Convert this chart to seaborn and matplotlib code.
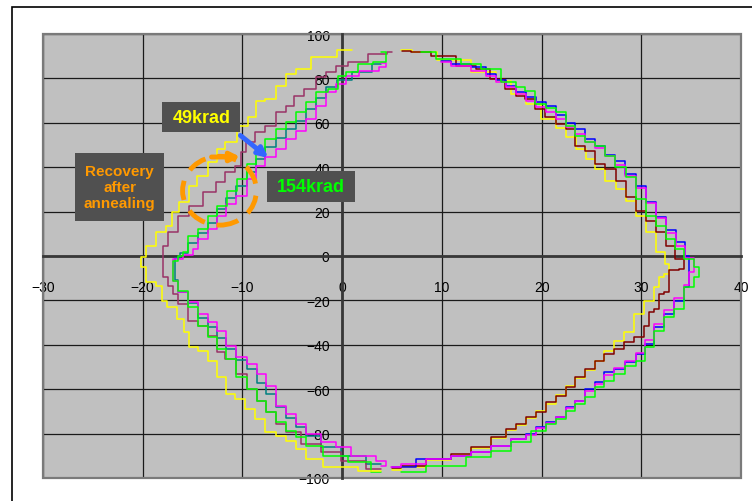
import matplotlib
matplotlib.use('Agg')
import matplotlib.pyplot as plt
from matplotlib.patches import Rectangle, Ellipse
import seaborn as sns

# left-hand branches (top -> vertex -> bottom)
yellow_l_x = [1.0, -2.1, -4.1, -5.1, -6.1, -7.2, -8.2, -9.0, -9.8, -11.2, -12.2, -12.8, -14.2, -15.0, -15.8, -16.9,
              -17.2, -18.2, -19.2, -20.2, -20.2, -19.2, -18.2, -18.0, -17.2, -16.0, -15.8, -15.0, -14.0, -13.0, -12.0,
              -11.2, -10.2, -9.2, -8.2, -7.2, -6.1, -5.1, -4.1, -3.1, -0.8, 3.9]
yellow_l_y = [93.0, 89.5, 84.2, 82.0, 76.7, 70.7, 70.0, 62.5, 58.7, 51.2, 48.2, 42.2, 36.2, 31.7, 24.2, 19.7,
              13.7, 10.7, 4.7, -0.6, -5.0, -11.9, -13.4, -20.1, -23.1, -28.4, -34.4, -41.1, -42.6, -47.2, -54.6,
              -62.2, -64.4, -68.9, -73.4, -79.4, -80.9, -83.2, -86.9, -91.4, -95.2, -96.7]

plum_l_x = [5.0, 3.9, 1.2, -0.1, -1.1, -2.1, -3.1, -4.5, -5.1, -6.1, -7.2, -8.2, -9.2, -10.0, -10.2, -11.2, -12.2,
            -13.2, -14.8, -16.0, -17.0, -18.0, -18.0, -17.0, -17.0, -16.0, -15.0, -14.0, -13.0, -12.2, -11.2, -10.0,
            -9.0, -8.0, -7.2, -6.1, -5.1, -3.1, -1.1, 0.9, 3.9]
plum_l_y = [91.7, 91.0, 87.2, 85.7, 82.7, 80.5, 75.2, 72.2, 67.7, 64.7, 58.7, 55.7, 51.2, 46.7, 40.7, 37.7, 33.2,
            28.7, 22.7, 18.2, 10.7, 4.6, -9.6, -13.4, -17.1, -21.6, -29.1, -31.4, -35.9, -43.4, -46.4, -53.2,
            -59.9, -65.2, -70.4, -75.7, -79.4, -84.7, -88.4, -92.2, -95.9]

green_l_x = [3.9, 4.9, 3.9, 2.2, 0.9, -0.1, -0.8, -2.1, -3.1, -4.1, -5.1, -6.1, -7.2, -8.2, -9.0, -10.0, -11.0,
             -12.0, -13.0, -14.0, -15.0, -16.0, -16.0, -17.0, -17.0, -16.0, -15.0, -14.0, -13.0, -12.0, -11.2, -10.0,
             -9.0, -8.0, -7.2, -6.1, -5.1, -4.1, -3.1, -0.8, 1.9, 3.9]
green_l_y = [92.0, 89.5, 87.5, 86.5, 82.7, 81.2, 75.2, 73.7, 69.2, 64.7, 60.2, 57.2, 52.7, 46.7, 41.4, 34.7, 29.4,
             22.7, 18.2, 12.2, 9.1, 1.7, 0.1, -2.1, -11.1, -15.6, -23.1, -31.4, -36.6, -41.9, -46.4, -54.7,
             -59.9, -65.2, -70.4, -74.9, -78.7, -81.7, -85.4, -90.0, -92.9, -97.4]

teal_l_x = [3.9, 2.0, 0.0, -1.1, -2.1, -3.1, -4.1, -5.1, -6.1, -7.2, -8.2, -9.0, -10.0, -11.2, -12.0, -13.0, -14.0,
            -15.0, -16.0, -16.5, -17.0, -16.0, -15.0, -14.0, -13.0, -12.0, -11.2, -10.0, -9.0, -8.0, -7.2, -6.1,
            -5.1, -4.1, -3.1, -1.1, 0.9, 3.9]
teal_l_y = [86.5, 83.0, 79.5, 76.0, 71.0, 66.0, 61.0, 57.0, 53.0, 49.0, 43.5, 38.0, 31.5, 26.0, 21.0, 15.0, 10.5,
            6.0, 1.5, -1.0, -11.0, -16.0, -21.0, -28.0, -32.0, -37.0, -42.0, -47.0, -51.0, -57.0, -62.0, -68.0,
            -73.0, -77.0, -81.0, -86.0, -90.0, -93.5]

magenta_l_x = [3.9, 4.9, 2.5, 0.9, -0.1, -1.1, -2.1, -3.1, -4.1, -5.1, -6.1, -7.2, -8.2, -9.0, -10.0, -11.2, -12.0,
               -13.0, -14.0, -15.0, -15.0, -17.0, -17.0, -16.0, -15.0, -14.0, -13.0, -12.0, -11.2, -10.0, -9.0, -8.0,
               -7.2, -6.1, -5.1, -4.1, -3.1, -1.1, -0.1, 1.9, 4.9, 3.9]
magenta_l_y = [87.0, 85.0, 83.5, 81.2, 77.5, 73.7, 67.7, 61.7, 56.4, 52.7, 48.2, 44.5, 40.7, 34.7, 27.2, 23.4, 18.2,
               12.2, 7.7, 3.2, 0.4, -1.4, -11.1, -16.4, -20.9, -26.1, -29.9, -33.6, -40.4, -45.6, -48.6, -53.2,
               -58.4, -67.4, -71.2, -75.7, -80.2, -83.9, -86.2, -90.0, -92.2, -94.4]

# right-hand branches (top -> vertex -> bottom)
yellow_r_x = [5.9, 8.1, 11.0, 14.9, 16.0, 17.9, 19.0, 20.9, 22.0, 22.9, 24.0, 24.9, 25.9, 26.9, 28.0, 29.0, 30.0,
              31.0, 32.0, 32.8, 32.8, 31.8, 31.8, 30.8, 29.8, 28.8, 27.8, 26.8, 25.8, 24.9, 23.9, 22.9, 21.9, 20.9,
              19.9, 18.9, 17.9, 16.9, 15.9, 13.9, 11.9, 9.9, 6.9, 5.0]
yellow_r_y = [92.9, 91.7, 88.5, 82.7, 79.0, 73.0, 68.5, 61.7, 57.5, 53.4, 48.0, 43.7, 39.2, 33.9, 30.2, 24.9, 18.2,
              10.7, 1.7, -3.5, -8.0, -9.6, -14.0, -20.1, -26.1, -34.4, -38.1, -42.6, -47.2, -51.5, -55.0, -58.5,
              -62.5, -66.5, -70.0, -73.0, -76.0, -78.5, -82.0, -86.5, -89.5, -92.0, -95.0, -96.5]

darkred_r_x = [6.0, 7.9, 9.9, 12.9, 13.9, 15.7, 16.9, 17.9, 18.8, 19.8, 20.9, 21.9, 22.9, 23.9, 24.9, 25.9, 26.9,
               28.0, 29.0, 30.0, 31.0, 32.0, 33.0, 33.8, 34.8, 32.8, 32.8, 31.8, 31.8, 30.8, 30.8, 29.8, 28.8, 27.8,
               26.8, 25.8, 24.9, 23.9, 22.9, 21.9, 20.9, 19.9, 18.9, 17.9, 16.9, 15.9, 13.9, 11.9, 9.9, 6.9, 5.0]
darkred_r_y = [92.5, 91.7, 90.2, 85.7, 84.2, 79.7, 75.2, 72.2, 70.7, 66.2, 62.5, 59.5, 57.2, 49.7, 47.4, 41.4, 39.2,
               33.9, 26.4, 20.4, 15.9, 10.7, 4.6, -1.4, -5.9, -6.5, -16.4, -17.1, -23.9, -25.4, -31.4, -36.6, -38.9,
               -41.9, -44.1, -47.2, -50.9, -54.6, -59.1, -62.9, -65.9, -70.4, -72.7, -75.7, -77.9, -81.7, -86.2,
               -89.2, -91.4, -94.4, -95.5]

blue_r_x = [9.9, 11.9, 13.9, 14.9, 15.9, 16.9, 17.9, 18.9, 19.9, 20.9, 21.9, 22.9, 23.9, 24.9, 25.9, 26.9, 27.8,
            28.9, 30.0, 31.0, 32.0, 33.0, 34.0, 34.8, 34.8, 34.8, 33.8, 32.8, 31.8, 30.8, 30.0, 29.0, 27.8, 26.8,
            25.8, 24.9, 23.9, 22.9, 21.9, 20.9, 19.9, 18.9, 17.9, 15.9, 13.9, 11.9, 9.9, 5.0]
blue_r_y = [88.0, 86.5, 85.0, 82.0, 79.5, 76.7, 74.0, 71.4, 69.5, 67.7, 63.5, 60.0, 57.2, 52.7, 49.5, 45.5, 42.9,
            37.0, 31.7, 24.5, 17.4, 11.5, 6.1, 0.1, -3.6, -14.1, -20.1, -26.1, -32.0, -39.6, -44.1, -47.9, -50.9,
            -52.4, -56.9, -59.9, -65.2, -68.2, -72.7, -74.9, -77.2, -80.2, -82.4, -85.4, -88.4, -90.0, -91.4, -95.2]

magenta_r_x = [9.9, 11.9, 13.9, 14.9, 15.9, 16.9, 17.9, 18.9, 19.9, 20.9, 21.9, 22.9, 23.9, 24.9, 25.9, 26.9, 27.8,
               28.9, 30.0, 31.0, 32.0, 33.0, 34.0, 34.8, 35.8, 34.8, 34.8, 33.8, 32.8, 31.8, 30.8, 30.0, 29.0, 27.8,
               26.8, 25.8, 24.9, 23.9, 22.9, 21.9, 20.9, 19.9, 18.9, 17.9, 15.9, 13.9, 11.9, 9.9, 6.9, 4.9]
magenta_r_y = [87.2, 85.5, 83.5, 81.0, 78.5, 76.0, 73.0, 70.0, 67.0, 64.7, 61.5, 58.0, 55.0, 51.5, 48.5, 45.0, 41.0,
               36.0, 30.5, 24.0, 17.0, 10.5, 4.5, -1.0, -5.5, -7.0, -13.0, -19.0, -24.5, -30.5, -38.0, -43.5, -47.5,
               -50.5, -53.5, -57.5, -61.0, -65.5, -68.5, -72.5, -75.0, -77.5, -80.5, -82.5, -85.5, -88.5, -90.0,
               -91.5, -93.5, -95.0]

green_r_x = [7.9, 10.9, 12.9, 14.9, 16.9, 17.9, 18.8, 19.9, 20.9, 21.9, 22.9, 23.9, 24.9, 25.9, 26.9, 27.9, 29.0,
             30.0, 31.0, 32.0, 33.0, 33.8, 34.8, 35.8, 35.8, 34.8, 33.8, 32.8, 31.8, 30.8, 30.0, 29.0, 27.8, 26.8,
             25.8, 24.9, 23.9, 22.9, 21.9, 20.9, 19.9, 17.9, 15.9, 13.9, 10.9, 5.9]
green_r_y = [91.7, 88.7, 86.5, 84.2, 78.2, 76.0, 74.5, 68.5, 66.5, 64.7, 58.5, 54.2, 51.5, 49.7, 45.2, 40.0, 35.4,
             25.7, 18.2, 13.7, 7.7, 3.2, -1.4, -5.1, -9.6, -14.1, -23.9, -27.6, -33.6, -41.1, -47.2, -49.4, -53.2,
             -56.2, -59.1, -63.7, -66.7, -69.7, -73.4, -75.7, -78.7, -83.9, -87.7, -90.7, -94.4, -97.4]

x_ticks = [-30, -20, -10, 0, 10, 20, 30, 40]
y_ticks = [-100, -80, -60, -40, -20, 0, 20, 40, 60, 80, 100]

sns.set_theme(style='white')
plt.rcParams['font.family'] = ['Liberation Sans', 'DejaVu Sans']

fig = plt.figure(figsize=(7.52, 5.02), dpi=100)
ax = fig.add_axes([43 / 752, 1 - 479 / 502, 698 / 752, 444 / 502])
ax.set_facecolor('#C0C0C0')

series = [
    (teal_l_x, teal_l_y, '#008080'),
    (magenta_l_x, magenta_l_y, '#FF00FF'),
    (plum_l_x, plum_l_y, '#993366'),
    (green_l_x, green_l_y, '#00FF00'),
    (yellow_l_x, yellow_l_y, '#FFFF00'),
    (yellow_r_x, yellow_r_y, '#FFFF00'),
    (darkred_r_x, darkred_r_y, '#800000'),
    (blue_r_x, blue_r_y, '#0000FF'),
    (magenta_r_x, magenta_r_y, '#FF00FF'),
    (green_r_x, green_r_y, '#00FF00'),
]
for xs, ys, c in series:
    sns.lineplot(x=xs, y=ys, sort=False, estimator=None, color=c, lw=1.1,
                 drawstyle='steps-mid', ax=ax, zorder=3)

ax.set_xlim(-30, 40)
ax.set_ylim(-100, 100)
ax.set_xticks(x_ticks)
ax.set_yticks(y_ticks)
ax.set_xlabel('')
ax.set_ylabel('')
ax.set_axisbelow(True)
ax.grid(True, color='#1a1a1a', lw=0.9)

for s in ['top', 'right']:
    ax.spines[s].set_visible(False)
ax.spines['left'].set_position(('data', 0))
ax.spines['bottom'].set_position(('data', 0))
for s in ['left', 'bottom']:
    ax.spines[s].set_color('#383838')
    ax.spines[s].set_linewidth(2)
    ax.spines[s].set_zorder(2.5)
ax.add_patch(Rectangle((0, 0), 1, 1, transform=ax.transAxes, fill=False,
                       ec='#7a7a7a', lw=1.6, zorder=2.4, clip_on=False))

ax.tick_params(axis='x', direction='out', length=4, width=1, pad=13, labelsize=10, colors='black')
ax.tick_params(axis='y', direction='out', length=5, width=1, pad=4, labelsize=10, colors='black')

# annotations
box_c = '#505050'
ax.add_patch(Rectangle((-18.05, 55.9), 7.82, 13.5, fc=box_c, ec='none', zorder=5))
ax.text(-14.1, 62.6, '49krad', color='#FFFF00', fontsize=13, fontweight='bold',
        ha='center', va='center', zorder=6)
ax.add_patch(Rectangle((-7.52, 24.3), 8.82, 14.0, fc=box_c, ec='none', zorder=5))
ax.text(-3.1, 31.2, '154krad', color='#00FF00', fontsize=13, fontweight='bold',
        ha='center', va='center', zorder=6)
ax.add_patch(Rectangle((-26.8, 15.8), 8.95, 30.6, fc=box_c, ec='none', zorder=5))
ax.text(-22.3, 31.1, 'Recovery\nafter\nannealing', color='#FF9900', fontsize=11, fontweight='bold',
        ha='center', va='center', linespacing=1.15, zorder=6)

ax.annotate('', xy=(-7.4, 44.2), xytext=(-10.2, 54.3),
            arrowprops=dict(arrowstyle='-|>', color='#3366FF', lw=3.5, mutation_scale=14,
                            shrinkA=0, shrinkB=0), zorder=6)
ax.annotate('', xy=(-10.2, 44.6), xytext=(-13.1, 44.6),
            arrowprops=dict(arrowstyle='-|>', color='#FF9900', lw=3.5, mutation_scale=14,
                            shrinkA=0, shrinkB=0), zorder=6)
ax.add_patch(Ellipse((-12.3, 29.4), 7.4, 31, fill=False, ec='#FF9900', lw=3.5,
                     linestyle=(0, (4, 2.5)), zorder=6))

# outer chart frame
fig.add_artist(Rectangle((12 / 752, -0.5), 2, 1 - 8 / 502 + 0.5, transform=fig.transFigure,
                         fill=False, ec='black', lw=1.2))

fig.savefig('out.png', dpi=100)
